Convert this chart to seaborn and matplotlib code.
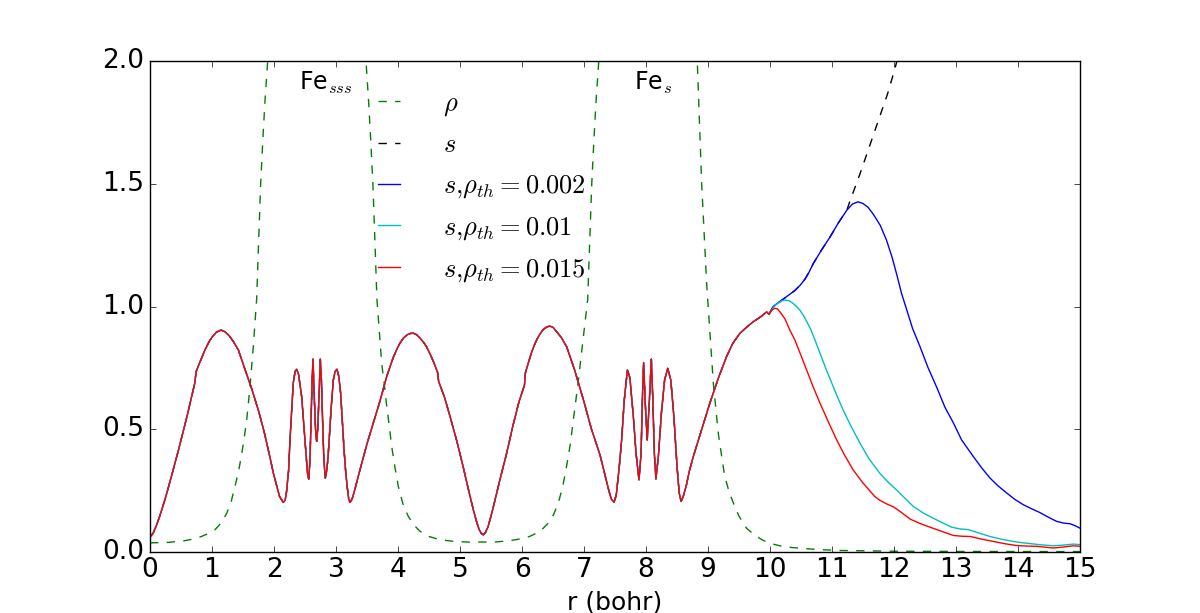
import matplotlib
matplotlib.use("Agg")
import matplotlib.pyplot as plt
import seaborn as sns

# electron density rho (green dashed), clipped at the top near the two Fe sites
r_rho = [0.0, 0.3, 0.565, 0.7, 0.83, 0.95, 1.05, 1.15, 1.24, 1.31, 1.37, 1.43, 1.48, 1.52,
         1.56, 1.613, 1.666, 1.72, 1.75, 1.785, 1.82, 1.855, 1.898, 1.95, 2.69,
         3.43, 3.484, 3.525, 3.56, 3.595, 3.63, 3.66, 3.737, 3.78, 3.82, 3.86, 3.898, 3.95,
         4.005, 4.08, 4.166, 4.26, 4.355, 4.5, 4.677, 4.9, 5.16, 5.59, 5.8, 5.97, 6.12,
         6.237, 6.34, 6.425, 6.51, 6.586, 6.66, 6.72, 6.78, 6.828, 6.87, 6.91, 6.99,
         7.06, 7.09, 7.125, 7.16, 7.195, 7.238, 7.29, 8.03,
         8.77, 8.83, 8.898, 8.978, 9.086, 9.166, 9.22, 9.27, 9.34, 9.41, 9.5, 9.62, 9.75,
         9.89, 10.02, 10.16, 10.35, 10.59, 10.85, 11.13, 12.0, 13.0, 15.0]
rho = [0.036, 0.038, 0.045, 0.052, 0.062, 0.075, 0.09, 0.118, 0.158, 0.205, 0.266, 0.33, 0.40, 0.465,
       0.538, 0.673, 0.836, 1.03, 1.25, 1.5, 1.68, 1.84, 2.0, 2.25, 40.0,
       2.25, 2.0, 1.84, 1.68, 1.5, 1.25, 1.03, 0.768, 0.68, 0.59, 0.51, 0.43, 0.345,
       0.266, 0.195, 0.144, 0.108, 0.083, 0.062, 0.049, 0.042, 0.039, 0.04, 0.045, 0.052, 0.062,
       0.076, 0.095, 0.117, 0.152, 0.198, 0.27, 0.35, 0.44, 0.538, 0.62, 0.70, 0.877,
       1.03, 1.25, 1.5, 1.68, 1.84, 2.0, 2.25, 40.0,
       2.25, 1.98, 1.5, 1.094, 0.687, 0.483, 0.39, 0.307, 0.245, 0.198, 0.145, 0.096, 0.068,
       0.046, 0.033, 0.024, 0.017, 0.012, 0.008, 0.005, 0.002, 0.001, 0.0005]

# reduced gradient s, identical for all curves up to r ~ 10
r_core = [0.0, 0.05, 0.1, 0.15, 0.19, 0.25, 0.3, 0.38, 0.46, 0.53, 0.6, 0.66, 0.72, 0.745, 0.8,
          0.887, 0.95, 1.0, 1.07, 1.145, 1.21, 1.28, 1.35, 1.425, 1.53, 1.64, 1.75, 1.84,
          1.935, 1.99, 2.04, 2.09, 2.15, 2.18, 2.2, 2.235, 2.258, 2.285, 2.31, 2.34,
          2.366, 2.395, 2.42, 2.446, 2.48, 2.516, 2.54, 2.56, 2.58, 2.597, 2.615, 2.629,
          2.645, 2.67, 2.688, 2.705, 2.73, 2.747, 2.765, 2.785, 2.805, 2.828, 2.85, 2.87,
          2.89, 2.92, 2.957, 2.985, 3.016, 3.045, 3.075, 3.10, 3.13, 3.155, 3.18, 3.205,
          3.226, 3.26, 3.3, 3.387, 3.5, 3.6, 3.71, 3.817, 3.92, 3.98, 4.03, 4.09, 4.15, 4.2,
          4.247, 4.3, 4.35, 4.41, 4.46, 4.52, 4.58, 4.64, 4.655, 4.75, 4.84, 4.95, 5.05, 5.13,
          5.215, 5.27, 5.31, 5.345, 5.376, 5.41, 5.45, 5.5, 5.54, 5.65, 5.753, 5.85, 5.95,
          6.04, 6.055, 6.15, 6.2, 6.237, 6.29, 6.34, 6.4, 6.45, 6.5, 6.55, 6.63, 6.72, 6.85,
          6.99, 7.12, 7.258, 7.35, 7.40, 7.44, 7.484, 7.52, 7.57, 7.607, 7.65,
          7.70, 7.74, 7.796, 7.84, 7.887, 7.92, 7.945, 7.962, 7.985, 8.02, 8.055, 8.086,
          8.11, 8.135, 8.16, 8.2, 8.25, 8.30, 8.35, 8.40, 8.45, 8.50, 8.535, 8.565, 8.60,
          8.65, 8.7, 8.763, 8.9, 9.03, 9.17, 9.30, 9.40, 9.516, 9.62, 9.73, 9.85, 9.946, 9.984]
s_core = [0.06, 0.075, 0.105, 0.14, 0.171, 0.22, 0.265, 0.34, 0.415, 0.485, 0.555, 0.62, 0.685,
          0.735, 0.77, 0.823, 0.855, 0.875, 0.895, 0.904, 0.897, 0.88, 0.855, 0.823, 0.745,
          0.665, 0.575, 0.49, 0.385, 0.32, 0.272, 0.225, 0.201, 0.21, 0.24, 0.33, 0.456, 0.58,
          0.687, 0.735, 0.744, 0.725, 0.68, 0.633, 0.52, 0.402, 0.32, 0.296, 0.37, 0.524,
          0.70, 0.785, 0.66, 0.50, 0.45, 0.50, 0.66, 0.785, 0.70, 0.524, 0.37, 0.30, 0.33,
          0.38, 0.456, 0.58, 0.70, 0.735, 0.744, 0.715, 0.646, 0.54, 0.415, 0.33, 0.266,
          0.215, 0.201, 0.215, 0.25, 0.334, 0.44, 0.524, 0.615, 0.714, 0.79, 0.825, 0.85,
          0.872, 0.885, 0.89, 0.891, 0.885, 0.872, 0.855, 0.836, 0.805, 0.77, 0.73, 0.695,
          0.63, 0.551, 0.45, 0.347, 0.26, 0.171, 0.12, 0.09, 0.074, 0.069, 0.078, 0.10,
          0.145, 0.185, 0.30, 0.402, 0.51, 0.61, 0.68, 0.73, 0.81, 0.843, 0.864, 0.888,
          0.905, 0.917, 0.92, 0.915, 0.90, 0.875, 0.836, 0.74, 0.62, 0.50, 0.395, 0.30,
          0.25, 0.215, 0.202, 0.23, 0.35, 0.456, 0.62, 0.741, 0.71, 0.551, 0.40, 0.293,
          0.40, 0.65, 0.771, 0.62, 0.456, 0.62, 0.785, 0.62, 0.40, 0.297, 0.39, 0.57, 0.70,
          0.748, 0.70, 0.55, 0.35, 0.24, 0.205, 0.225, 0.27, 0.33, 0.388, 0.50, 0.606, 0.71,
          0.796, 0.85, 0.891, 0.915, 0.938, 0.958, 0.978, 0.968]

# tails beyond r ~ 10
r_tail_s = [10.05, 10.16, 10.24, 10.32, 10.40, 10.48, 10.56, 10.63, 10.70, 10.83, 10.97, 11.1,
            11.24, 11.29, 11.45, 11.6, 11.75, 11.9, 12.02, 12.2]
s_tail = [1.0, 1.02, 1.035, 1.05, 1.065, 1.085, 1.11, 1.14, 1.176, 1.23, 1.284, 1.34,
          1.393, 1.43, 1.54, 1.65, 1.76, 1.87, 1.975, 2.15]

r_tail_002 = [10.05, 10.16, 10.24, 10.32, 10.40, 10.48, 10.56, 10.63, 10.70, 10.83, 10.97, 11.1,
              11.24, 11.33, 11.42, 11.5, 11.58, 11.67, 11.78, 11.88, 11.97, 12.05, 12.12, 12.2,
              12.3, 12.42, 12.55, 12.69, 12.82, 12.96, 13.09, 13.28, 13.42, 13.55, 13.68,
              13.82, 13.95, 14.09, 14.22, 14.35, 14.48, 14.62, 14.73, 14.84, 14.93, 15.0]
s_tail_002 = [1.0, 1.02, 1.035, 1.05, 1.065, 1.085, 1.11, 1.14, 1.176, 1.23, 1.284, 1.34,
              1.393, 1.418, 1.427, 1.42, 1.405, 1.375, 1.33, 1.27, 1.2, 1.125, 1.055, 0.99,
              0.91, 0.836, 0.75, 0.67, 0.59, 0.524, 0.456, 0.388, 0.34, 0.30, 0.268,
              0.239, 0.213, 0.191, 0.175, 0.16, 0.142, 0.124, 0.117, 0.114, 0.105, 0.096]

r_tail_01 = [10.05, 10.1, 10.15, 10.2, 10.24, 10.3, 10.35, 10.42, 10.48, 10.54, 10.59, 10.66,
             10.73, 10.82, 10.91, 11.0, 11.09, 11.18, 11.3, 11.45, 11.6, 11.77, 11.9, 12.04,
             12.17, 12.31, 12.47, 12.63, 12.78, 12.93, 13.06, 13.2, 13.37, 13.55, 13.73,
             13.92, 14.05, 14.19, 14.38, 14.57, 14.73, 14.89, 15.0]
s_tail_01 = [0.995, 1.008, 1.017, 1.024, 1.026, 1.024, 1.017, 1.002, 0.986, 0.963, 0.94, 0.905,
             0.86, 0.80, 0.741, 0.685, 0.63, 0.578, 0.515, 0.443, 0.378, 0.32, 0.285, 0.252,
             0.22, 0.185, 0.158, 0.137, 0.118, 0.10, 0.093, 0.09, 0.076, 0.062, 0.051,
             0.042, 0.037, 0.033, 0.028, 0.024, 0.027, 0.031, 0.029]

r_tail_015 = [10.03, 10.08, 10.12, 10.17, 10.24, 10.32, 10.40, 10.5, 10.59, 10.7, 10.806, 10.94,
              11.075, 11.2, 11.34, 11.5, 11.69, 11.77, 11.88, 11.99, 12.12, 12.26, 12.42, 12.58,
              12.77, 12.96, 13.1, 13.23, 13.4, 13.6, 13.8, 13.98, 14.15, 14.3, 14.45, 14.57,
              14.73, 14.89, 15.0]
s_tail_015 = [0.985, 0.993, 0.99, 0.975, 0.95, 0.904, 0.864, 0.80, 0.741, 0.67, 0.606, 0.53,
              0.456, 0.395, 0.334, 0.28, 0.225, 0.21, 0.195, 0.183, 0.16, 0.133, 0.115, 0.10,
              0.083, 0.066, 0.063, 0.062, 0.052, 0.042, 0.032, 0.025, 0.023, 0.022, 0.018, 0.015,
              0.019, 0.024, 0.022]

labels = [r'$\rho$', r'$s$', r'$s{,}\rho_{th}=0.002$', r'$s{,}\rho_{th}=0.01$',
          r'$s{,}\rho_{th}=0.015$']
x_ticks = list(range(0, 16))
y_ticks = [0.0, 0.5, 1.0, 1.5, 2.0]

plt.style.use('classic')
plt.rcParams['font.family'] = ['DejaVu Sans']

fig = plt.figure(figsize=(12, 6.13), dpi=100, facecolor='white')
ax = fig.add_axes([0.125, 0.1, 0.775, 0.8])

sns.lineplot(x=r_rho, y=rho, ax=ax, color='g', linestyle='--', lw=1, label=labels[0],
             estimator=None, sort=False)
sns.lineplot(x=r_core + r_tail_s, y=s_core + s_tail, ax=ax, color='k', linestyle='--', lw=1,
             label=labels[1], estimator=None, sort=False)
sns.lineplot(x=r_core + r_tail_002, y=s_core + s_tail_002, ax=ax, color='b', lw=1,
             label=labels[2], estimator=None, sort=False)
sns.lineplot(x=r_core + r_tail_01, y=s_core + s_tail_01, ax=ax, color='c', lw=1,
             label=labels[3], estimator=None, sort=False)
sns.lineplot(x=r_core + r_tail_015, y=s_core + s_tail_015, ax=ax, color='r', lw=1,
             label=labels[4], estimator=None, sort=False)

ax.set_xlim(0, 15)
ax.set_ylim(0, 2)
ax.set_xticks(x_ticks)
ax.set_yticks(y_ticks)
ax.tick_params(labelsize=19, direction='in', top=True, right=True)
ax.set_xlabel('r (bohr)', fontsize=18)
ax.set_ylabel('')

ax.text(2.41, 1.885, r'Fe$_{sss}$', fontsize=17)
ax.text(7.80, 1.885, r'Fe$_{s}$', fontsize=17)

ax.legend(loc='upper left', bbox_to_anchor=(0.211, 0.989), frameon=False, fontsize=19,
          handlelength=1.45, handletextpad=1.3, labelspacing=0.55)

fig.savefig('out.png', dpi=100, facecolor='white')
